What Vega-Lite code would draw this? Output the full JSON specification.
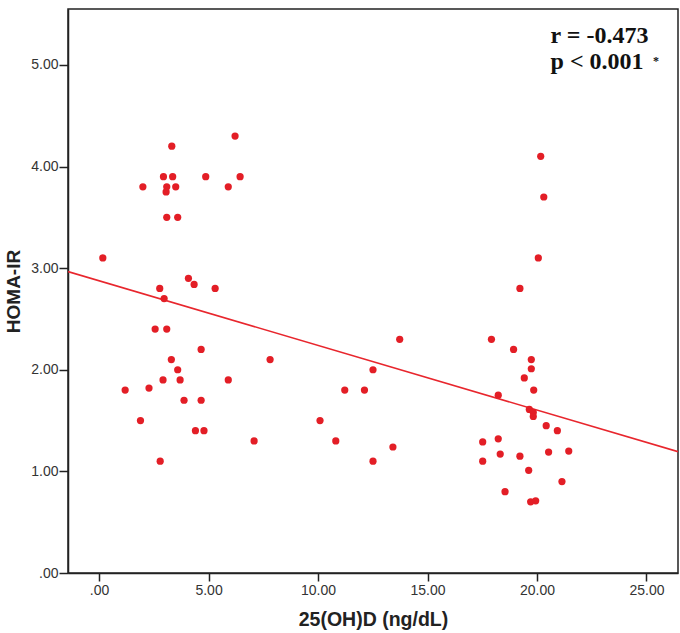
{
  "$schema": "https://vega.github.io/schema/vega-lite/v6.json",
  "width": 610,
  "height": 564,
  "autosize": {"type": "none"},
  "padding": {"left": 68, "top": 9, "right": 2, "bottom": 60},
  "background": "white",
  "config": {
    "view": {"stroke": "#222", "strokeWidth": 1.5},
    "font": "Liberation Sans"
  },
  "datasets": {
    "pts": [
      {"vitd": 0.17, "homa": 3.10}, {"vitd": 2.0, "homa": 3.80}, {"vitd": 3.32, "homa": 4.20},
      {"vitd": 2.94, "homa": 3.90}, {"vitd": 3.36, "homa": 3.90}, {"vitd": 3.09, "homa": 3.80},
      {"vitd": 3.06, "homa": 3.75}, {"vitd": 3.50, "homa": 3.80}, {"vitd": 3.09, "homa": 3.50},
      {"vitd": 3.59, "homa": 3.50}, {"vitd": 4.87, "homa": 3.90}, {"vitd": 6.21, "homa": 4.30},
      {"vitd": 5.90, "homa": 3.80}, {"vitd": 6.44, "homa": 3.90}, {"vitd": 4.08, "homa": 2.90},
      {"vitd": 4.34, "homa": 2.84}, {"vitd": 5.30, "homa": 2.80}, {"vitd": 2.77, "homa": 2.80},
      {"vitd": 2.97, "homa": 2.70}, {"vitd": 2.56, "homa": 2.40}, {"vitd": 3.09, "homa": 2.40},
      {"vitd": 4.66, "homa": 2.20}, {"vitd": 3.30, "homa": 2.10}, {"vitd": 3.59, "homa": 2.00},
      {"vitd": 2.92, "homa": 1.90}, {"vitd": 3.70, "homa": 1.90}, {"vitd": 5.90, "homa": 1.90},
      {"vitd": 1.19, "homa": 1.80}, {"vitd": 2.28, "homa": 1.82}, {"vitd": 3.88, "homa": 1.70},
      {"vitd": 4.66, "homa": 1.70}, {"vitd": 1.89, "homa": 1.50}, {"vitd": 4.40, "homa": 1.40},
      {"vitd": 4.79, "homa": 1.40}, {"vitd": 2.79, "homa": 1.10}, {"vitd": 7.08, "homa": 1.30},
      {"vitd": 7.81, "homa": 2.10}, {"vitd": 10.09, "homa": 1.50}, {"vitd": 10.81, "homa": 1.30},
      {"vitd": 11.22, "homa": 1.80}, {"vitd": 12.12, "homa": 1.80}, {"vitd": 12.51, "homa": 2.00},
      {"vitd": 12.51, "homa": 1.10}, {"vitd": 13.42, "homa": 1.24}, {"vitd": 13.73, "homa": 2.30},
      {"vitd": 17.52, "homa": 1.29}, {"vitd": 17.52, "homa": 1.10}, {"vitd": 17.92, "homa": 2.30},
      {"vitd": 19.22, "homa": 2.80}, {"vitd": 18.93, "homa": 2.20}, {"vitd": 19.74, "homa": 2.10},
      {"vitd": 19.74, "homa": 2.01}, {"vitd": 19.42, "homa": 1.92}, {"vitd": 19.85, "homa": 1.80},
      {"vitd": 18.23, "homa": 1.75}, {"vitd": 19.65, "homa": 1.61}, {"vitd": 19.83, "homa": 1.58},
      {"vitd": 19.83, "homa": 1.54}, {"vitd": 20.42, "homa": 1.45}, {"vitd": 20.93, "homa": 1.40},
      {"vitd": 18.23, "homa": 1.32}, {"vitd": 18.32, "homa": 1.17}, {"vitd": 19.22, "homa": 1.15},
      {"vitd": 20.53, "homa": 1.19}, {"vitd": 21.45, "homa": 1.20}, {"vitd": 19.62, "homa": 1.01},
      {"vitd": 21.14, "homa": 0.90}, {"vitd": 18.54, "homa": 0.80}, {"vitd": 19.71, "homa": 0.70},
      {"vitd": 19.94, "homa": 0.71}, {"vitd": 20.17, "homa": 4.10}, {"vitd": 20.31, "homa": 3.70},
      {"vitd": 20.06, "homa": 3.10}
    ],
    "fit": [
      {"vitd": -1.42, "homa": 2.966},
      {"vitd": 26.44, "homa": 1.194}
    ],
    "notes": [
      {"vitd": 20.62, "homa": 5.22, "label": "r = -0.473"},
      {"vitd": 20.62, "homa": 4.955, "label": "p < 0.001"}
    ],
    "star": [
      {"vitd": 25.3, "homa": 5.04, "label": "*"}
    ]
  },
  "encoding": {
    "x": {
      "field": "vitd", "type": "quantitative",
      "scale": {"domain": [-1.42, 26.44], "nice": false, "zero": false},
      "axis": {
        "title": "25(OH)D (ng/dL)",
        "values": [0, 5, 10, 15, 20, 25],
        "labelExpr": "datum.value == 0 ? '.00' : format(datum.value, '.2f')",
        "grid": false, "domainColor": "#222", "domainWidth": 1.5,
        "tickColor": "#222", "tickWidth": 1.5, "tickSize": 8,
        "labelFontSize": 14, "labelColor": "#333", "labelPadding": 2,
        "titleFontSize": 19.5, "titleFontWeight": "bold", "titleColor": "#222",
        "titlePadding": 13
      }
    },
    "y": {
      "field": "homa", "type": "quantitative",
      "scale": {"domain": [0, 5.55], "nice": false, "zero": false},
      "axis": {
        "title": "HOMA-IR",
        "values": [0, 1, 2, 3, 4, 5],
        "labelExpr": "datum.value == 0 ? '.00' : format(datum.value, '.2f')",
        "grid": false, "domainColor": "#222", "domainWidth": 1.5,
        "tickColor": "#222", "tickWidth": 1.5, "tickSize": 9,
        "labelFontSize": 14, "labelColor": "#333", "labelPadding": 1,
        "titleFontSize": 19, "titleFontWeight": "bold", "titleColor": "#222",
        "titlePadding": 7
      }
    }
  },
  "layer": [
    {
      "data": {"name": "fit"},
      "mark": {"type": "line", "color": "#e8262d", "strokeWidth": 1.6, "clip": true}
    },
    {
      "data": {"name": "pts"},
      "mark": {"type": "circle", "size": 52, "color": "#e31e26", "opacity": 1}
    },
    {
      "data": {"name": "notes"},
      "mark": {"type": "text", "align": "left", "baseline": "alphabetic", "font": "Liberation Serif", "fontWeight": "bold", "fontSize": 24, "color": "#111"},
      "encoding": {"text": {"field": "label"}}
    },
    {
      "data": {"name": "star"},
      "mark": {"type": "text", "align": "left", "baseline": "middle", "font": "Liberation Serif", "fontWeight": "bold", "fontSize": 12, "color": "#111"},
      "encoding": {"text": {"field": "label"}}
    }
  ]
}
